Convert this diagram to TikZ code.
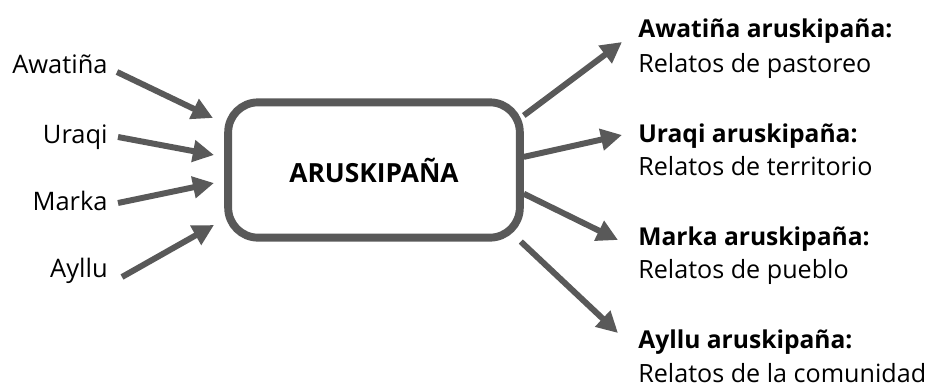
\documentclass[tikz,border=0pt]{standalone}
\usepackage{fontspec}
\setmainfont{Open Sans}
\usetikzlibrary{arrows.meta,calc}

\begin{document}
\begin{tikzpicture}[x=0.02cm, y=-0.02cm]
  % Define colors
  \colorlet{linegray}{black!65}

  % Styles
  \tikzset{
    flow/.style={draw=linegray, line width=3.4pt, -{Triangle[length=12pt, width=12pt]}},
    inlabel/.style={anchor=base east, inner sep=0pt, font=\fontsize{14.5}{17}\selectfont},
    outtitle/.style={anchor=base west, inner sep=0pt, font=\fontsize{14}{17}\selectfont\bfseries},
    outdesc/.style={anchor=base west, inner sep=0pt, font=\fontsize{14.3}{17}\selectfont}
  }

  \useasboundingbox (0,0) rectangle (931,389);

  % Central box
  \node[draw=linegray, line width=4.5pt, rounded corners=17pt, fill=white,
        minimum width=166pt, minimum height=77pt,
        font=\fontsize{15}{18}\selectfont\bfseries] (box) at (374,170) {ARUSKIPAÑA};

  % Left labels
  \node[inlabel] (aw) at (108,73) {Awatiña};
  \node[inlabel] (ur) at (108,143) {Uraqi};
  \node[inlabel] (ma) at (108,210) {Marka};
  \node[inlabel] (ay) at (108,277) {Ayllu};

  % Arrow tips near the box
  \coordinate (awIn) at (213,118);
  \coordinate (urIn) at (214,155);
  \coordinate (maIn) at (214,183);
  \coordinate (ayIn) at (214,225);

  % Inward arrows
  \draw[flow] ($(aw.base east)+(9,-1)$) -- (awIn);
  \draw[flow] ($(ur.base east)+(10,-6)$) -- (urIn);
  \draw[flow] ($(ma.base east)+(10,-7)$) -- (maIn);
  \draw[flow] ($(ay.base east)+(14,0)$) -- (ayIn);

  % Right texts
  \node[outtitle] (awT) at (638,37) {Awatiña aruskipaña:};
  \node[outdesc] (awD) at (638,72) {Relatos de pastoreo};
  \node[outtitle] (urT) at (638,142) {Uraqi aruskipaña:};
  \node[outdesc] (urD) at (638,175) {Relatos de territorio};
  \node[outtitle] (maT) at (638,245) {Marka aruskipaña:};
  \node[outdesc] (maD) at (638,278) {Relatos de pueblo};
  \node[outtitle] (ayT) at (638,348) {Ayllu aruskipaña:};
  \node[outdesc] (ayD) at (638,382) {Relatos de la comunidad};

  % Arrow tips near the texts
  \coordinate (awOut) at (622,42);
  \coordinate (urOut) at (622,135);
  \coordinate (maOut) at (618,240);
  \coordinate (ayOut) at (618,333);

  % Outward arrows
  \draw[flow] (box.20) -- (awOut);
  \draw[flow] (box.5) -- (urOut);
  \draw[flow] (box.-9) -- (maOut);
  \draw[flow] (box.-26) -- (ayOut);
\end{tikzpicture}
\end{document}
